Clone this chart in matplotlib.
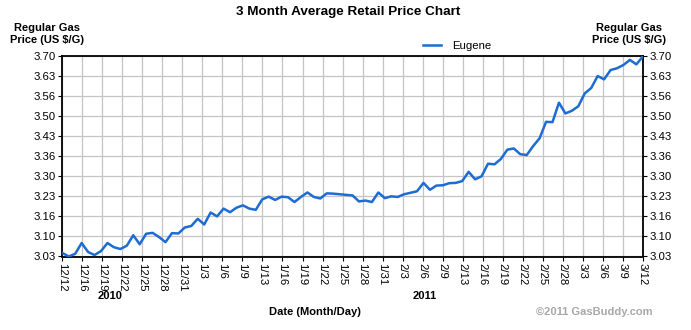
import matplotlib
matplotlib.use("Agg")
import matplotlib.pyplot as plt
import matplotlib.transforms as mtransforms
import numpy as np

plt.rcParams['font.family'] = ['Liberation Sans', 'DejaVu Sans']

# Daily average regular gas price, Eugene, 12/12/2010 - 3/12/2011
eugene_prices = [
    3.042, 3.030, 3.039, 3.075, 3.045, 3.035, 3.048, 3.075, 3.061, 3.055,
    3.066, 3.101, 3.071, 3.106, 3.109, 3.095, 3.078, 3.108, 3.107, 3.127,
    3.132, 3.156, 3.137, 3.177, 3.164, 3.190, 3.178, 3.193, 3.201, 3.190,
    3.186, 3.221, 3.230, 3.219, 3.230, 3.228, 3.212, 3.229, 3.244, 3.229,
    3.224, 3.241, 3.240, 3.238, 3.236, 3.234, 3.214, 3.217, 3.212, 3.244,
    3.225, 3.231, 3.229, 3.238, 3.243, 3.248, 3.276, 3.253, 3.267, 3.268,
    3.275, 3.276, 3.282, 3.313, 3.288, 3.298, 3.340, 3.338, 3.356, 3.387,
    3.391, 3.372, 3.369, 3.399, 3.425, 3.480, 3.479, 3.544, 3.508, 3.517,
    3.532, 3.575, 3.593, 3.633, 3.622, 3.653, 3.659, 3.670, 3.687, 3.672,
    3.698,
]

date_labels = [
    "12/12", "12/16", "12/19", "12/22", "12/25", "12/28", "12/31", "1/3",
    "1/6", "1/9", "1/13", "1/16", "1/19", "1/22", "1/25", "1/28", "1/31",
    "2/3", "2/6", "2/9", "2/13", "2/16", "2/19", "2/22", "2/25", "2/28",
    "3/3", "3/6", "3/9", "3/12",
]

price_labels = ["3.03", "3.10", "3.16", "3.23", "3.30", "3.36",
                "3.43", "3.50", "3.56", "3.63", "3.70"]

years = ["2010", "2011"]
year_day = [7.4, 56.2]

y_min, y_max = 3.03, 3.70

days = np.arange(len(eugene_prices))

fig = plt.figure(figsize=(6.91, 3.30), dpi=100)
ax = fig.add_axes([62.3 / 691, (330 - 256.5) / 330, 580.5 / 691, 200.5 / 330])

line_color = "#1c6cd4"
ax.plot(days, eugene_prices, color=line_color, lw=1.8, solid_joinstyle="round",
        label="Eugene", zorder=3)

ax.set_xlim(0, days[-1])
ax.set_ylim(y_min, y_max)

xticks = np.linspace(0, days[-1], len(date_labels))
ax.set_xticks(xticks)
ax.set_xticklabels(date_labels, rotation=270, fontsize=8.2)

yticks = np.linspace(y_min, y_max, len(price_labels))
ax.set_yticks(yticks)
ax.set_yticklabels(price_labels, fontsize=8.2)

ax.tick_params(axis='y', left=True, right=True, labelleft=True, labelright=True,
               length=3, width=0.8, pad=1.5, color="#000000")
ax.tick_params(axis='x', length=3, width=0.8, pad=2, color="#000000")

ax.grid(True, color="#c4c4c4", lw=0.9)
ax.set_axisbelow(True)
for sp in ax.spines.values():
    sp.set_color("black")
    sp.set_linewidth(1.3)

# Title and axis captions
fig.text(348 / 691, 1 - 12 / 330, "3 Month Average Retail Price Chart",
         ha="center", va="center", fontsize=9.7, fontweight="bold")
fig.text(47 / 691, 1 - 34 / 330, "Regular Gas\nPrice (US $/G)", ha="center",
         va="center", fontsize=8, fontweight="bold", linespacing=1.35)
fig.text(629 / 691, 1 - 34 / 330, "Regular Gas\nPrice (US $/G)", ha="center",
         va="center", fontsize=8, fontweight="bold", linespacing=1.35)
fig.text(315 / 691, 1 - 312 / 330, "Date (Month/Day)", ha="center",
         va="center", fontsize=8, fontweight="bold")
fig.text(594 / 691, 1 - 312 / 330, "\u00a92011 GasBuddy.com", ha="center",
         va="center", fontsize=8, fontweight="bold", color="#a8a8a8")

trans = mtransforms.blended_transform_factory(ax.transData, fig.transFigure)
for yr, d in zip(years, year_day):
    ax.text(d, 1 - 296 / 330, yr, transform=trans, ha="center", va="center",
            fontsize=8, fontweight="bold")

leg = ax.legend(loc="lower center", bbox_to_anchor=(0.68, 1.0), frameon=False,
                fontsize=8.2, handlelength=1.6, borderaxespad=0, handletextpad=1.0)

fig.savefig("out.png", dpi=100)
